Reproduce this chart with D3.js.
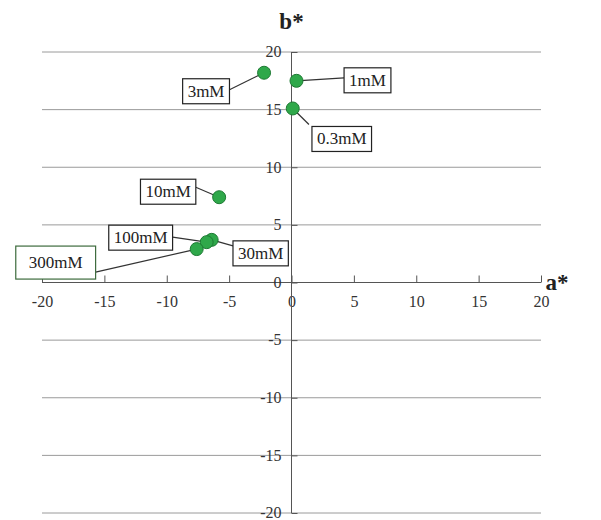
<!DOCTYPE html>
<html><head><meta charset="utf-8">
<script src="https://cdn.jsdelivr.net/npm/d3@7"></script>
<style>body{margin:0;background:#fff}</style>
</head><body>
<script>
const labels = ["3mM","1mM","0.3mM","10mM","30mM","100mM","300mM"];
const aValues = [-2.2, 0.4, 0.1, -5.8, -6.4, -6.8, -7.6];
const bValues = [18.2, 17.5, 15.1, 7.4, 3.7, 3.5, 2.9];
const xTicks = [-20,-15,-10,-5,0,5,10,15,20];
const yTicks = [-20,-15,-10,-5,0,5,10,15,20];
// label box placement (layout only): box centre offset from point in px
const labelOffsets = [[-58,18],[71,-1],[49,30],[-51,-6],[49,13],[-66,-5],[-141,13]];

const W=601,H=520;
const svg=d3.select("body").append("svg").attr("width",W).attr("height",H);
const x=d3.scaleLinear().domain([-20,20]).range([42,541]);
const y=d3.scaleLinear().domain([-20,20]).range([513,52]);
const font="'Liberation Serif','Times New Roman',serif";
const fmt=d=>String(d);

// gridlines
svg.append("g").selectAll("line").data(yTicks.filter(d=>d!==0)).join("line")
  .attr("x1",x(-20)).attr("x2",x(20)).attr("y1",d=>y(d)).attr("y2",d=>y(d))
  .attr("stroke","#9a9a9a").attr("stroke-width",1);

// x axis
const xAxis=d3.axisBottom(x).tickValues(xTicks).tickSize(-7).tickPadding(14).tickFormat(fmt);
const gx=svg.append("g").attr("transform",`translate(0,${y(0)})`).call(xAxis);
gx.select(".domain").attr("stroke","#555").attr("d",`M${x(-20)},0H${x(20)}`);
gx.selectAll(".tick line").attr("stroke","#555");
gx.selectAll("text").attr("font-family",font).attr("font-size",16).attr("fill","#333").attr("dy","0.32em").attr("y",19);

// y axis
const yAxis=d3.axisLeft(y).tickValues(yTicks).tickSize(-6).tickPadding(14).tickFormat(fmt);
const gy=svg.append("g").attr("transform",`translate(${x(0)},0)`).call(yAxis);
gy.select(".domain").attr("stroke","#555").attr("d",`M0,${y(20)}V${y(-20)}`);
gy.selectAll(".tick line").attr("stroke","#555");
gy.selectAll("text").attr("font-family",font).attr("font-size",16).attr("fill","#333").attr("x",-10).attr("dy","0.3em");

// axis titles
svg.append("text").attr("x",x(0)).attr("y",29).attr("text-anchor","middle")
  .attr("font-family",font).attr("font-weight","bold").attr("font-size",23).attr("fill","#222").text("b*");
svg.append("text").attr("x",557).attr("y",y(0)+7).attr("text-anchor","middle")
  .attr("font-family",font).attr("font-weight","bold").attr("font-size",23).attr("fill","#222").text("a*");

const data=labels.map((l,i)=>({label:l,a:aValues[i],b:bValues[i],off:labelOffsets[i]}));

// label boxes & leader lines
const lg=svg.append("g");
data.forEach(d=>{
  const px=x(d.a),py=y(d.b);
  const cx=px+d.off[0],cy=py+d.off[1];
  const t=lg.append("text").attr("font-family",font).attr("font-size",17).attr("fill","#222")
    .attr("text-anchor","middle").attr("x",cx).attr("y",cy).attr("dy","0.35em").text(d.label);
  const bb=t.node().getBBox();
  const big=d.label==="300mM";
  const padX=big?13:5;
  const bx=bb.x-padX,by=cy-12-(big?4:0),bw=bb.width+2*padX,bh=25+(big?8:0);
  let ex,ey;
  if(Math.abs(d.off[0])>bw/2){ ex = d.off[0]<0 ? bx+bw : bx; ey = cy; }
  else { ex = bx+4; ey = d.off[1]>0 ? by : by+bh; }
  if(d.label==="300mM"){ ex=bx+bw; ey=by+bh-7; }
  if(d.label==="3mM"){ ey=cy-1; }
  if(d.label==="1mM"){ ey=cy-2; }
  if(d.label==="10mM"){ ey=cy-4; }
  if(d.label==="100mM"){ ey=cy; }
  if(d.label==="30mM"){ ey=cy-7; }
  if(d.label==="0.3mM"){ ex=bx-3; ey=by-2; }
  lg.insert("line","text").attr("x1",px).attr("y1",py).attr("x2",ex).attr("y2",ey)
    .attr("stroke","#333").attr("stroke-width",1.2);
  lg.insert("rect","text").attr("x",bx).attr("y",by).attr("width",bw).attr("height",bh)
    .attr("fill","#fff").attr("stroke",big?"#3d6b3d":"#222").attr("stroke-width",1.2);
  t.raise();
});

// points
svg.append("g").selectAll("circle").data(data).join("circle")
  .attr("cx",d=>x(d.a)).attr("cy",d=>y(d.b)).attr("r",6.5)
  .attr("fill","#2fa84a").attr("stroke","#1d7a33").attr("stroke-width",1);
</script>
</body></html>
